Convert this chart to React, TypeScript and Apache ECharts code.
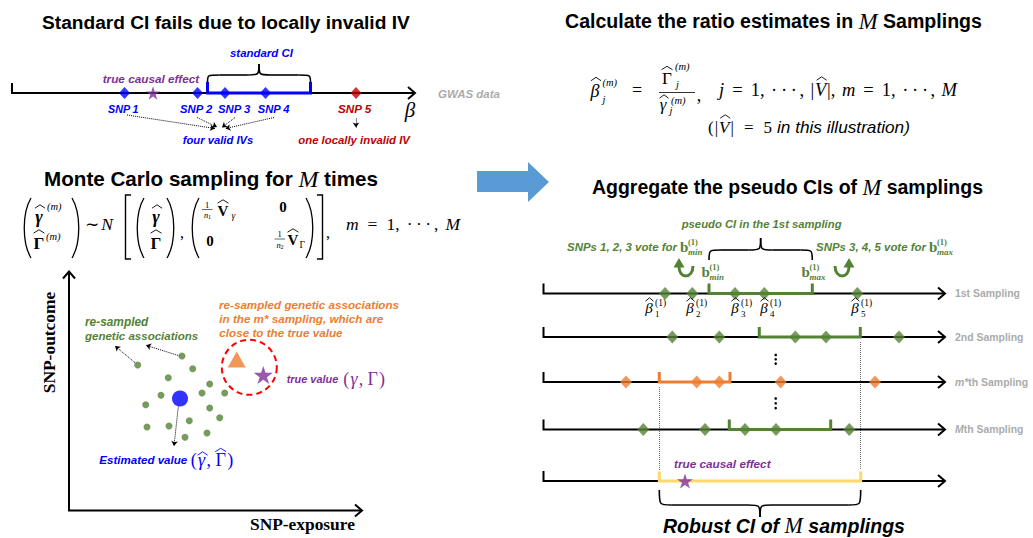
import React, { useEffect, useRef } from 'react';
import * as echarts from 'echarts';

// ---------- colours / fonts ----------
const GREEN = '#548235';
const ORANGE = '#ED7D31';
const BLUE = '#0000FF';
const DARKRED = '#C00000';
const PURPLE = '#7F2F97';
const YELLOW = '#FFD966';
const GRAY = '#ABABAB';
const SANS = '"Liberation Sans", Arial, sans-serif';
const SERIF = '"Liberation Serif", "Times New Roman", serif';
const STAR = 'path://M50,0L61.2,34.5L97.6,34.5L68.2,55.9L79.4,90.5L50,69.1L20.6,90.5L31.8,55.9L2.4,34.5L38.8,34.5Z';

// ---------- data: top panel (GWAS data, beta axis) ----------
const topAxisY = 93;
const topAxisStart = 12;
const topAxisEnd = 415;
const topSnpBeta = [124.5, 197.5, 225, 265.5, 356];
const topSnpLabels = ['SNP 1', 'SNP 2', 'SNP 3', 'SNP 4', 'SNP 5'];
const topSnpLabelSpan = [[108, 139], [180, 212.7], [218, 250.7], [257.7, 290], [338, 371.7]];
const topSnpValid = [true, true, true, true, false];
const topStandardCI = [207.5, 310.5];
const topTrueEffect = 153;

// ---------- data: Monte Carlo scatter ----------
const resampledX = [137.7, 182, 192.7, 168.3, 209.7, 202, 224.7, 161, 145.7, 209.7, 219.7, 189.3, 147, 169, 207, 185];
const resampledY = [365, 356, 368.7, 377.7, 384, 393, 393, 395.3, 404.7, 408, 417.7, 420.7, 427, 426, 433, 437.3];
const estimatedValue = [180, 398.5];
const mStarValue = [236.7, 359.5];
const trueValue = [263.3, 375];
const scatterOrigin = [69, 510.5];
const scatterXEnd = 362;
const scatterYEnd = 271.5;

// ---------- data: sampling rows ----------
const samplingNames = ['1st Sampling', '2nd Sampling', 'm*th Sampling', 'Mth Sampling'];
const samplingY = [293.5, 337, 382, 429.5];
const samplingEstimates = [
  [665, 692.3, 735, 764.3, 857.3],
  [672.3, 719.3, 795.3, 826, 899],
  [626, 696.7, 719.3, 780.7, 875],
  [643.3, 705, 745, 776, 849.3],
];
const samplingCI = [
  [709, 812.3],
  [759.3, 860.3],
  [659.3, 730],
  [729.3, 830.7],
];
const samplingColors = [GREEN, GREEN, ORANGE, GREEN];
const samplingAxisStart = 543.5;
const samplingAxisEnd = 945;
const betaLabelX = [645, 686, 731, 760, 851];
const robustY = 481;
const robustCI = [659.3, 860.7];
const robustTrueEffect = 685;

// ---------- text measuring ----------
let _ctx: CanvasRenderingContext2D | null = null;
function mw(text: string, font: string) {
  if (!_ctx) _ctx = document.createElement('canvas').getContext('2d');
  if (!_ctx) return text.length * 6;
  _ctx.font = font;
  return _ctx.measureText(text).width;
}
type P = { t: string; size: number; serif?: boolean; b?: boolean; i?: boolean; fill?: string; dy?: number; hat?: number; hatW?: number; g?: number };
const fontOf = (p: P, size: number) => `${p.i ? 'italic' : 'normal'} ${p.b ? 'bold' : 'normal'} ${size}px ${p.serif ? SERIF : SANS}`;

// lays parts left-to-right between x0 and x1, either scaling font sizes or the gaps
function seq(x0: number, x1: number, y: number, parts: P[], mode: 'scale' | 'gap', fill = '#000') {
  const ws = parts.map((p) => mw(p.t, fontOf(p, p.size)));
  const total = ws.reduce((a, b) => a + b, 0);
  let s = 1;
  let unit = 0;
  if (mode === 'scale') s = (x1 - x0) / total;
  else {
    const wsum = parts.slice(0, -1).reduce((a, p) => a + (p.g ?? 1), 0);
    unit = wsum > 0 ? (x1 - x0 - total) / wsum : 0;
  }
  let x = x0;
  const out: any[] = [];
  parts.forEach((p, k) => {
    const size = p.size * s;
    const w = ws[k] * s;
    const f = p.fill ?? fill;
    out.push({
      type: 'text', x, y: y + (p.dy ?? 0), silent: true, z: 20,
      style: {
        text: p.t, fill: f, fontSize: size, fontFamily: p.serif ? SERIF : SANS,
        fontWeight: p.b ? 'bold' : 'normal', fontStyle: p.i ? 'italic' : 'normal',
        align: 'left', verticalAlign: 'middle',
      },
    });
    if (p.hat !== undefined) out.push(hat(x + w / 2 + (p.i ? 1 : 0), y + p.hat, p.hatW ?? w * 0.95, f));
    x += w + (k < parts.length - 1 ? unit * (p.g ?? 1) : 0);
  });
  return out;
}
const fitLab = (x0: number, x1: number, y: number, text: string, fill: string) =>
  seq(x0, x1, y, [{ t: text, size: 12, b: true, i: true }], 'scale', fill);

// ---------- helpers ----------
function T(x: number, y: number, text: string, o: any = {}) {
  const style: any = {
    text,
    fill: o.fill ?? '#000',
    fontSize: o.size ?? 12,
    fontFamily: o.family ?? SANS,
    fontWeight: o.weight ?? 'normal',
    fontStyle: o.italic ? 'italic' : 'normal',
    align: o.align ?? 'center',
    verticalAlign: o.va ?? 'middle',
  };
  if (o.rich) style.rich = o.rich;
  return { type: 'text', x, y, rotation: o.rotation ?? 0, silent: true, z: 20, style };
}
const math = (x: number, y: number, text: string, o: any = {}) =>
  T(x, y, text, { family: SERIF, size: 16, italic: true, ...o });

function hat(cx: number, y: number, w: number, color = '#000') {
  return {
    type: 'polyline', silent: true, z: 20,
    shape: { points: [[cx - w / 2, y + 2.2], [cx, y - 1.2], [cx + w / 2, y + 2.2]] },
    style: { stroke: color, lineWidth: 0.9, fill: 'none' },
  };
}
function bz(x1: number, y1: number, cx1: number, cy1: number, cx2: number, cy2: number, x2: number, y2: number, color = '#000', lw = 1.6) {
  return {
    type: 'bezierCurve', silent: true, z: 20,
    shape: { x1, y1, x2, y2, cpx1: cx1, cpy1: cy1, cpx2: cx2, cpy2: cy2 },
    style: { stroke: color, lineWidth: lw, fill: 'none' },
  };
}
function ln(x1: number, y1: number, x2: number, y2: number, color = '#000', lw = 1.6) {
  return { type: 'line', silent: true, z: 20, shape: { x1, y1, x2, y2 }, style: { stroke: color, lineWidth: lw } };
}
function brace(x1: number, x2: number, yEnd: number, yMid: number, yTip: number) {
  const xc = (x1 + x2) / 2;
  const r = Math.min(12, (x2 - x1) / 6);
  return [
    bz(x1, yEnd, x1, yMid, x1, yMid, x1 + r, yMid),
    ln(x1 + r, yMid, xc - r, yMid),
    bz(xc - r, yMid, xc, yMid, xc, yMid, xc, yTip),
    bz(xc, yTip, xc, yMid, xc, yMid, xc + r, yMid),
    ln(xc + r, yMid, x2 - r, yMid),
    bz(x2 - r, yMid, x2, yMid, x2, yMid, x2, yEnd),
  ];
}
function paren(x: number, y1: number, y2: number, side: number) {
  const h = y2 - y1;
  return bz(x, y1, x + side * 9, y1 + h * 0.25, x + side * 9, y2 - h * 0.25, x, y2, '#000', 1.3);
}
function chev(x: number, y: number, dir: string) {
  const pts = dir === 'right' ? [[x - 7, y - 6], [x, y], [x - 7, y + 6]] : [[x - 6, y + 7], [x, y], [x + 6, y + 7]];
  return { type: 'polyline', silent: true, z: 20, shape: { points: pts }, style: { stroke: '#000', lineWidth: 2, fill: 'none' } };
}
const titleParts = (a: string, b: string): P[] => [
  { t: a, size: 19, b: true },
  { t: 'M', size: 22, serif: true, i: true },
  { t: b, size: 19, b: true },
];
const DOTS = '·\u2009·\u2009·';

function buildOption() {
  const g: any[] = [];

  // ===== top-left panel =====
  g.push(...seq(42, 410, 22, [{ t: 'Standard CI fails due to locally invalid IV', size: 19, b: true }], 'scale'));
  g.push(...fitLab(230, 293, 53, 'standard CI', BLUE));
  g.push(...brace(topStandardCI[0], topStandardCI[1], 82, 75, 64));
  g.push(...fitLab(102.7, 199.3, 78.5, 'true causal effect', PURPLE));
  g.push(chev(topAxisEnd, topAxisY, 'right'));
  topSnpLabels.forEach((s, i) =>
    g.push(...fitLab(topSnpLabelSpan[i][0], topSnpLabelSpan[i][1], 108.5, s, topSnpValid[i] ? BLUE : DARKRED)));
  g.push(math(410, 110, 'β', { size: 21 }));
  g.push(...fitLab(438, 500, 93.5, 'GWAS data', GRAY));
  g.push(...fitLab(182.7, 253.3, 139.5, 'four valid IVs', BLUE));
  g.push(...fitLab(298.3, 410, 139.5, 'one locally invalid IV', DARKRED));

  // ===== Monte Carlo title + formula =====
  g.push(...seq(44, 378, 178.5, titleParts('Monte Carlo sampling for ', ' times'), 'scale'));

  g.push(paren(31, 198, 258, -1));
  g.push(math(39, 217, 'γ', { size: 18, weight: 'bold' }), hat(40, 206, 10));
  g.push(math(47, 206, '(m)', { size: 10.5, align: 'left' }));
  g.push(math(39, 243, 'Γ', { size: 17, weight: 'bold', italic: false }), hat(39, 231, 11));
  g.push(math(46, 236, '(m)', { size: 10.5, align: 'left' }));
  g.push(paren(72, 198, 258, 1));
  g.push(math(92, 224, '∼', { size: 17, italic: false }));
  g.push(math(107, 224, 'N', { size: 17.5 }));
  g.push({ type: 'polyline', silent: true, shape: { points: [[131, 195], [125.5, 195], [125.5, 259], [131, 259]] }, style: { stroke: '#000', lineWidth: 1.4, fill: 'none' } });
  g.push(paren(144, 198, 258, -1));
  g.push(math(156, 217, 'γ', { size: 18, weight: 'bold' }), hat(157, 206, 10));
  g.push(math(156, 243, 'Γ', { size: 17, weight: 'bold', italic: false }), hat(156, 231, 11));
  g.push(paren(167, 198, 258, 1));
  g.push(math(182, 232, ',', { italic: false }));
  g.push(paren(199, 198, 258, -1));
  g.push(math(207, 204.5, '1', { size: 8.5, italic: false }), ln(202, 209.5, 212.5, 209.5, '#000', 0.6));
  g.push(math(206, 215, 'n', { size: 8.5 }), math(209.5, 217, '1', { size: 6, italic: false }));
  g.push(math(223, 211, 'V', { size: 15, weight: 'bold', italic: false }), hat(223, 201, 11));
  g.push(math(231.5, 215.5, 'γ', { size: 9.5, align: 'left' }));
  g.push(math(210, 241, '0', { size: 15, weight: 'bold', italic: false }));
  g.push(math(283, 207, '0', { size: 15, weight: 'bold', italic: false }));
  g.push(math(279.5, 234, '1', { size: 8.5, italic: false }), ln(274.5, 239, 285, 239, '#000', 0.6));
  g.push(math(278.5, 244.5, 'n', { size: 8.5 }), math(282, 246.5, '2', { size: 6, italic: false }));
  g.push(math(293, 240, 'V', { size: 15, weight: 'bold', italic: false }), hat(293, 230, 11));
  g.push(math(299.5, 245, 'Γ', { size: 9.5, italic: false, align: 'left' }));
  g.push(paren(306, 198, 258, 1));
  g.push({ type: 'polyline', silent: true, shape: { points: [[317, 195], [322.5, 195], [322.5, 259], [317, 259]] }, style: { stroke: '#000', lineWidth: 1.4, fill: 'none' } });
  g.push(math(328, 232, ',', { italic: false }));
  g.push(...seq(346, 460, 224, [
    { t: 'm', size: 17.5, serif: true, i: true },
    { t: '=', size: 17.5, serif: true },
    { t: '1,', size: 17.5, serif: true, g: 0.8 },
    { t: DOTS, size: 17.5, serif: true, g: 0.3 },
    { t: ',', size: 17.5, serif: true, g: 0.8 },
    { t: 'M', size: 17.5, serif: true, i: true },
  ], 'gap'));

  // ===== scatter panel =====
  g.push(chev(scatterOrigin[0], scatterYEnd, 'up'));
  g.push(chev(scatterXEnd, scatterOrigin[1], 'right'));
  {
    const sz = 17.5 * 101.7 / mw('SNP-outcome', `normal bold 17.5px ${SERIF}`);
    g.push(T(49.3, 342.5, 'SNP-outcome', { family: SERIF, weight: 'bold', size: sz, rotation: Math.PI / 2 }));
  }
  g.push(...seq(250, 355, 524.5, [{ t: 'SNP-exposure', size: 17.5, serif: true, b: true }], 'scale'));
  g.push({
    type: 'circle', silent: true, z: 4, shape: { cx: 249.3, cy: 367.3, r: 27.5 },
    style: { stroke: '#FF0000', lineWidth: 2, fill: 'none', lineDash: [6, 4] },
  });
  g.push(...fitLab(219, 399.3, 304.5, 're-sampled genetic associations', ORANGE));
  g.push(...fitLab(219.3, 383.3, 318.5, 'in the m* sampling, which are', ORANGE));
  g.push(...fitLab(219.3, 342.7, 332.5, 'close to the true value', ORANGE));
  g.push(...fitLab(85, 148.3, 321.7, 're-sampled', GREEN));
  g.push(...fitLab(85, 198.3, 335.7, 'genetic associations', GREEN));
  g.push(...fitLab(286.7, 338.3, 378.5, 'true value', PURPLE));
  g.push(...seq(343.3, 385, 379.3, [
    { t: '(', size: 18, serif: true, g: 0.3 },
    { t: 'γ', size: 18, serif: true, i: true, g: 0.3 },
    { t: ',', size: 18, serif: true, g: 1 },
    { t: 'Γ', size: 18, serif: true, g: 0.3 },
    { t: ')', size: 18, serif: true },
  ], 'gap', PURPLE));
  g.push(...fitLab(99.3, 187.3, 460, 'Estimated value', BLUE));
  g.push(...seq(190.7, 233.3, 460, [
    { t: '(', size: 18, serif: true, g: 0.3 },
    { t: 'γ', size: 18, serif: true, i: true, g: 0.3, hat: -7, hatW: 10 },
    { t: ',', size: 18, serif: true, g: 1 },
    { t: 'Γ', size: 18, serif: true, g: 0.3, hat: -10.5, hatW: 11 },
    { t: ')', size: 18, serif: true },
  ], 'gap', BLUE));

  // ===== big blue arrow =====
  g.push({
    type: 'polygon', silent: true,
    shape: { points: [[477, 171], [528, 171], [528, 162], [549, 182], [528, 202], [528, 192], [477, 192]] },
    style: { fill: '#5B9BD5' },
  });

  // ===== right: ratio estimates =====
  g.push(...seq(565, 982, 21, titleParts('Calculate the ratio estimates in ', ' Samplings'), 'scale'));
  g.push(math(595, 91, 'β', { size: 18 }), hat(596, 78.5, 10));
  g.push(math(602.5, 82.5, '(m)', { size: 10.5, align: 'left' }));
  g.push(math(602.5, 99, 'j', { size: 10.5, align: 'left' }));
  g.push(math(637, 90, '=', { size: 18, italic: false }));
  g.push(math(667, 78, 'Γ', { size: 17, italic: false }), hat(667, 67.5, 11));
  g.push(math(675, 66, '(m)', { size: 10.5, align: 'left' }));
  g.push(math(676, 84, 'j', { size: 10.5, align: 'left' }));
  g.push(ln(659, 92.5, 695, 92.5, '#000', 0.8));
  g.push(math(663, 104, 'γ', { size: 17 }), hat(664, 96, 9));
  g.push(math(671, 100, '(m)', { size: 10.5, align: 'left' }));
  g.push(math(669.5, 110, 'j', { size: 10.5, align: 'left' }));
  g.push(math(699, 95, ',', { size: 18, italic: false }));
  const FS = 18.5;
  g.push(...seq(719, 957, 90, [
    { t: 'j', size: FS, serif: true, i: true },
    { t: '=', size: FS, serif: true },
    { t: '1,', size: FS, serif: true, g: 0.8 },
    { t: DOTS, size: FS, serif: true, g: 0.3 },
    { t: ',', size: FS, serif: true, g: 0.8 },
    { t: '|', size: FS, serif: true, g: 0.1 },
    { t: 'V', size: FS, serif: true, i: true, g: 0.1, hat: -12, hatW: 10 },
    { t: '|,', size: FS, serif: true, g: 0.8 },
    { t: 'm', size: FS, serif: true, i: true },
    { t: '=', size: FS, serif: true },
    { t: '1,', size: FS, serif: true, g: 0.8 },
    { t: DOTS, size: FS, serif: true, g: 0.3 },
    { t: ',', size: FS, serif: true, g: 0.8 },
    { t: 'M', size: FS, serif: true, i: true },
  ], 'gap'));
  g.push(...seq(708, 772, 127, [
    { t: '(', size: 17, serif: true, g: 0.1 },
    { t: '|', size: 17, serif: true, g: 0.1 },
    { t: 'V', size: 17, serif: true, i: true, g: 0.1, hat: -11, hatW: 10 },
    { t: '|', size: 17, serif: true, g: 1 },
    { t: '=', size: 17, serif: true, g: 1 },
    { t: '5', size: 17, serif: true },
  ], 'gap'));
  g.push(...seq(777, 910, 127, [{ t: 'in this illustration)', size: 16, i: true }], 'scale'));

  // ===== right: aggregate =====
  g.push(...seq(592, 983, 187, titleParts('Aggregate the pseudo CIs of ', ' samplings'), 'scale'));
  g.push(...fitLab(681.7, 841.7, 223.5, 'pseudo CI in the 1st sampling', GREEN));
  g.push(...brace(samplingCI[0][0], samplingCI[0][1], 260, 250, 238));
  const bLabel = (x: number, y: number, sub: string) => [
    T(x, y, 'b', { family: SERIF, weight: 'bold', size: 15, fill: GREEN, align: 'left' }),
    T(x + 8, y - 5.5, '(1)', { family: SERIF, weight: 'bold', size: 8.5, fill: GREEN, align: 'left' }),
    T(x + 8, y + 5, sub, { family: SERIF, weight: 'bold', italic: true, size: 9, fill: GREEN, align: 'left' }),
  ];
  g.push(...fitLab(567, 677, 247, 'SNPs 1, 2, 3 vote for', GREEN));
  g.push(...bLabel(680, 247, 'min'));
  g.push(...fitLab(816, 926, 247, 'SNPs 3, 4, 5 vote for', GREEN));
  g.push(...bLabel(929, 247, 'max'));
  g.push(...bLabel(701.5, 272, 'min'));
  g.push(...bLabel(801.5, 272, 'max'));
  // curved arrows
  g.push(bz(693, 266, 693, 279, 679, 279, 679, 267, GREEN, 3));
  g.push({ type: 'polygon', silent: true, shape: { points: [[673.5, 267.5], [684.5, 267.5], [679, 258]] }, style: { fill: GREEN } });
  g.push(bz(835, 266, 835, 279, 849, 279, 849, 267, GREEN, 3));
  g.push({ type: 'polygon', silent: true, shape: { points: [[843.5, 267.5], [854.5, 267.5], [849, 258]] }, style: { fill: GREEN } });
  // beta labels under first sampling
  betaLabelX.forEach((bx, k) => {
    g.push(math(bx + 4, 308, 'β', { size: 15 }), hat(bx + 4.5, 299, 8));
    g.push(math(bx + 10, 302.5, '(1)', { size: 9.5, italic: false, align: 'left' }));
    g.push(math(bx + 10, 314, String(k + 1), { size: 9, italic: false, align: 'left' }));
  });
  // axis chevrons + names
  [...samplingY, robustY].forEach((y) => g.push(chev(samplingAxisEnd, y, 'right')));
  const graySize = 11 * 65 / mw('1st Sampling', `normal bold 11px ${SANS}`);
  const grayRich = {
    n: { fontFamily: SANS, fontWeight: 'bold', fontSize: graySize, fill: GRAY },
    i: { fontFamily: SANS, fontWeight: 'bold', fontStyle: 'italic', fontSize: graySize, fill: GRAY },
  };
  samplingNames.forEach((s, i) => {
    let txt = `{n|${s}}`;
    if (s.startsWith('m*')) txt = `{i|m*}{n|${s.slice(2)}}`;
    if (s.startsWith('Mth')) txt = `{i|M}{n|${s.slice(1)}}`;
    g.push(T(955, samplingY[i], txt, { align: 'left', rich: grayRich }));
  });
  // vertical ellipses
  [355, 359.3, 363.6, 398.5, 403.3, 408.1].forEach((y) =>
    g.push({ type: 'circle', silent: true, shape: { cx: 775.7, cy: y, r: 1.3 }, style: { fill: '#000' } }));
  g.push(...fitLab(674, 770.7, 463.5, 'true causal effect', PURPLE));
  g.push(...brace(robustCI[0], robustCI[1], 490, 505, 517));
  g.push(...seq(663, 905, 525.5, [
    { t: 'Robust CI of ', size: 19.5, b: true, i: true },
    { t: 'M', size: 22, serif: true, i: true },
    { t: ' samplings', size: 19.5, b: true, i: true },
  ], 'scale'));

  // ---------- series ----------
  const axisLines = [
    [[topAxisStart, topAxisY - 10], [topAxisStart, topAxisY], [topAxisEnd, topAxisY]],
    ...[...samplingY, robustY].map((y) => [[samplingAxisStart, y - 10], [samplingAxisStart, y], [samplingAxisEnd, y]]),
    [[scatterOrigin[0], scatterYEnd], [scatterOrigin[0], scatterOrigin[1]], [scatterXEnd, scatterOrigin[1]]],
  ];
  const ciBracket = (a: number, b: number, y: number, h: number) => [[a, y - h], [a, y], [b, y], [b, y - h]];
  const ciLines = [
    { coords: ciBracket(topStandardCI[0], topStandardCI[1], topAxisY, 11), lineStyle: { color: BLUE } },
    ...samplingCI.map((ci, i) => ({ coords: ciBracket(ci[0], ci[1], samplingY[i], 10), lineStyle: { color: samplingColors[i] } })),
    { coords: ciBracket(robustCI[0], robustCI[1], robustY, 9.5), lineStyle: { color: YELLOW } },
  ];
  const dottedArrows = [
    [[127, 115], [215, 128.5]],
    [[197, 117.5], [217, 127]],
    [[235, 117.5], [222, 127.5]],
    [[274, 117.5], [225.5, 128.5]],
    [[356, 118.5], [356, 127.5]],
    [[135, 362.7], [115, 346]],
    [[180, 356], [146, 345.3]],
    [[178.3, 406.5], [174, 446]],
  ];
  const guides = [
    [[robustCI[0], samplingY[2] + 5], [robustCI[0], robustY - 11]],
    [[robustCI[1], samplingY[1] + 5], [robustCI[1], robustY - 11]],
  ];
  const diamonds = [
    ...topSnpBeta.map((x, i) => ({ value: [x, topAxisY], itemStyle: { color: topSnpValid[i] ? BLUE : DARKRED }, symbolSize: [11, 12] })),
    ...samplingEstimates.flatMap((row, i) => row.map((x) => ({ value: [x, samplingY[i]], itemStyle: { color: samplingColors[i] }, symbolSize: [12, 13] }))),
  ];
  const base = { coordinateSystem: 'cartesian2d', silent: true, animation: false };

  const series: any[] = [
    { ...base, type: 'lines', polyline: true, z: 2, lineStyle: { color: '#000', width: 2, opacity: 1 },
      data: axisLines.map((c) => ({ coords: c })) },
    { ...base, type: 'lines', polyline: true, z: 3, lineStyle: { width: 3, opacity: 1 }, data: ciLines },
    { ...base, type: 'lines', z: 3, symbol: ['none', 'arrow'], symbolSize: 5,
      lineStyle: { color: '#000', width: 1, type: 'dotted', opacity: 1 }, data: dottedArrows.map((c) => ({ coords: c })) },
    { ...base, type: 'lines', z: 1, lineStyle: { color: '#666', width: 1, type: 'dotted', opacity: 1 },
      data: guides.map((c) => ({ coords: c })) },
    { ...base, type: 'scatter', z: 5, symbol: 'diamond', data: diamonds },
    { ...base, type: 'scatter', z: 5, symbol: 'circle', symbolSize: 7, itemStyle: { color: GREEN },
      data: resampledX.map((x, i) => [x, resampledY[i]]) },
    { ...base, type: 'scatter', z: 5, symbol: 'circle', symbolSize: 16, itemStyle: { color: BLUE }, data: [estimatedValue] },
    { ...base, type: 'scatter', z: 5, symbol: 'triangle', symbolSize: [18, 16], itemStyle: { color: ORANGE }, data: [mStarValue] },
    { ...base, type: 'scatter', z: 6, symbol: STAR, symbolKeepAspect: true, itemStyle: { color: PURPLE },
      data: [
        { value: [topTrueEffect, topAxisY], symbolSize: 14 },
        { value: [robustTrueEffect, robustY], symbolSize: 16 },
        { value: trueValue, symbolSize: 19 },
      ] },
  ];

  return {
    animation: false,
    grid: { left: 0, right: 0, top: 0, bottom: 0 },
    xAxis: { type: 'value', min: 0, max: 1033, show: false },
    yAxis: { type: 'value', min: 0, max: 538, inverse: true, show: false },
    series,
    graphic: { elements: g },
  };
}

export default function App() {
  const ref = useRef<HTMLDivElement>(null);
  useEffect(() => {
    document.body.style.margin = '0';
    if (!ref.current) return;
    const chart = echarts.init(ref.current, null, { renderer: 'svg' });
    chart.setOption(buildOption() as any);
    return () => chart.dispose();
  }, []);
  return <div ref={ref} style={{ width: 1033, height: 538, background: '#fff' }} />;
}
